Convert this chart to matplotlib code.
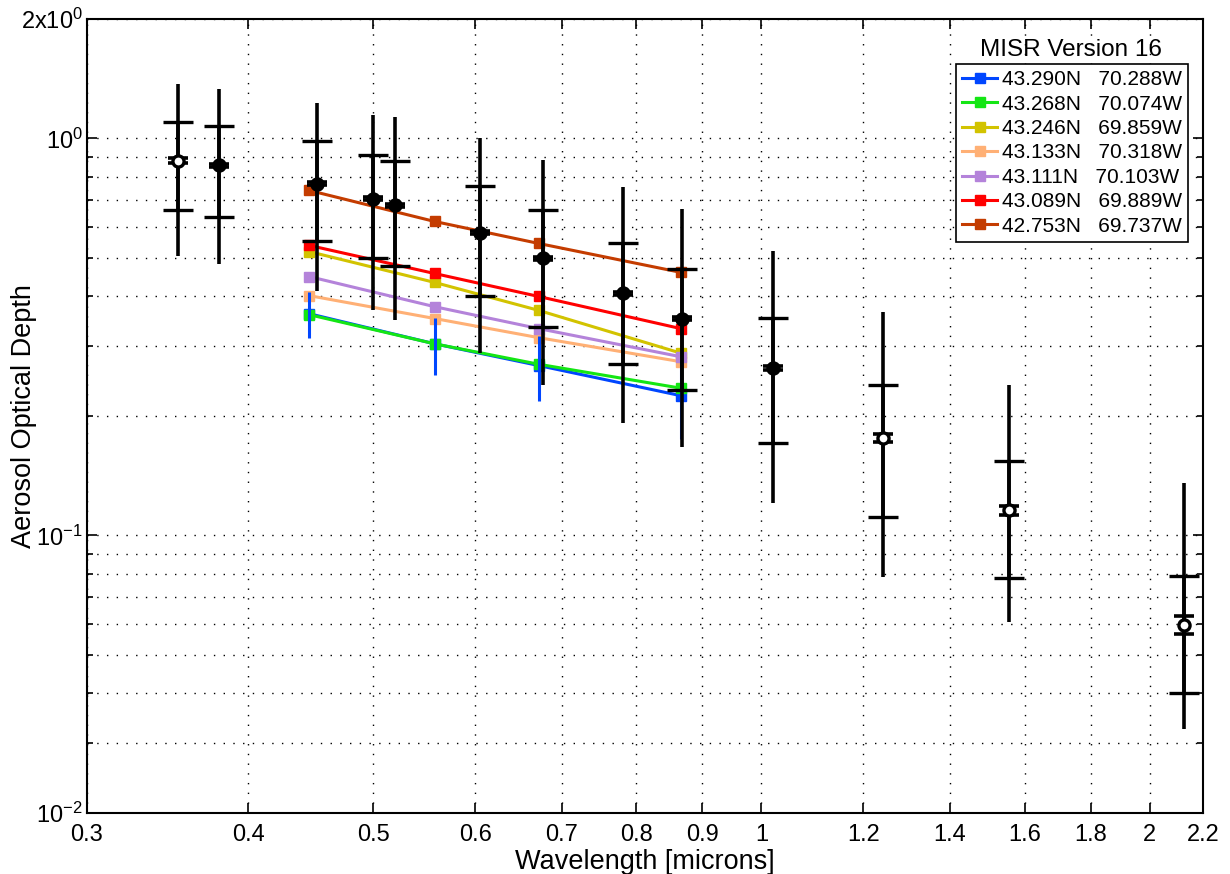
import matplotlib
matplotlib.use("Agg")
import matplotlib.pyplot as plt
import numpy as np
from matplotlib.ticker import FixedLocator, NullFormatter

plt.rcParams["font.family"] = ["Liberation Sans", "DejaVu Sans"]
plt.rcParams["mathtext.fontset"] = "custom"
plt.rcParams["mathtext.rm"] = "Liberation Sans"
plt.rcParams["mathtext.it"] = "Liberation Sans"

# MISR retrievals at the four camera bands
misr_wl = [0.446, 0.558, 0.672, 0.866]
misr_labels = [
    "43.290N   70.288W",
    "43.268N   70.074W",
    "43.246N   69.859W",
    "43.133N   70.318W",
    "43.111N   70.103W",
    "43.089N   69.889W",
    "42.753N   69.737W",
]
misr_colors = ["#0046ff", "#14e614", "#d2c300", "#ffb075", "#b483da", "#ff0000", "#c43c00"]
misr_aod = [
    [0.362, 0.304, 0.268, 0.225],
    [0.360, 0.304, 0.270, 0.235],
    [0.519, 0.434, 0.369, 0.288],
    [0.402, 0.352, 0.315, 0.274],
    [0.449, 0.377, 0.332, 0.282],
    [0.538, 0.457, 0.400, 0.332],
    [0.740, 0.618, 0.544, 0.460],
]
misr_err_first = [0.048, 0.050, 0.050, 0.050]

# sun photometer spectrum with its uncertainty ranges
sun_wl = [0.353, 0.380, 0.452, 0.500, 0.520, 0.605, 0.677, 0.781, 0.868, 1.021, 1.242, 1.555, 2.126]
sun_aod = [0.880, 0.855, 0.770, 0.706, 0.678, 0.579, 0.499, 0.407, 0.352, 0.264, 0.176, 0.1157, 0.0596]
sun_err = [0.015, 0.008, 0.008, 0.007, 0.007, 0.006, 0.005, 0.004, 0.004, 0.003, 0.0045, 0.0032, 0.0032]
cap_hi = [1.10, 1.072, 0.983, 0.906, 0.880, 0.757, 0.662, 0.544, 0.470, 0.354, 0.240, 0.1536, 0.0790]
cap_lo = [0.662, 0.633, 0.553, 0.499, 0.476, 0.400, 0.336, 0.271, 0.233, 0.171, 0.111, 0.0781, 0.0402]
bar_hi = [1.375, 1.33, 1.225, 1.149, 1.13, 1.0, 0.885, 0.753, 0.666, 0.522, 0.365, 0.240, 0.1354]
bar_lo = [0.507, 0.484, 0.414, 0.369, 0.348, 0.288, 0.240, 0.192, 0.167, 0.121, 0.0786, 0.0606, 0.0326]
open_marker = [True, False, False, False, False, False, False, False, False, False, True, True, True]

x_ticks = [0.3, 0.4, 0.5, 0.6, 0.7, 0.8, 0.9, 1.0, 1.2, 1.4, 1.6, 1.8, 2.0, 2.2]
x_tick_labels = ["0.3", "0.4", "0.5", "0.6", "0.7", "0.8", "0.9", "1", "1.2", "1.4", "1.6", "1.8", "2", "2.2"]
y_ticks = [0.02, 0.1, 1.0, 2.0]
y_tick_labels = [r"$\mathrm{10^{-2}}$", r"$\mathrm{10^{-1}}$", r"$\mathrm{10^{0}}$", r"$\mathrm{2x10^{0}}$"]

fig = plt.figure(figsize=(12.3, 8.74), dpi=100)
ax = fig.add_axes([0.0707, 0.0698, 0.9073, 0.9085])
ax.set_xscale("log")
ax.set_yscale("log")

for i, (vals, color, label) in enumerate(zip(misr_aod, misr_colors, misr_labels)):
    ax.plot(misr_wl, vals, "-s", color=color, lw=2.2, ms=7, mec=color, label=label, zorder=2)
    if i == 0:
        ax.errorbar(misr_wl, vals, yerr=misr_err_first, fmt="none", ecolor=color,
                    elinewidth=2.2, capsize=0, zorder=2.5)

sun_wl = np.array(sun_wl)
sun_aod = np.array(sun_aod)
outer = [sun_aod - np.array(bar_lo), np.array(bar_hi) - sun_aod]
inner = [sun_aod - np.array(cap_lo), np.array(cap_hi) - sun_aod]
ax.errorbar(sun_wl, sun_aod, yerr=outer, fmt="none", ecolor="black", elinewidth=2.6,
            capsize=0, zorder=3)
ax.errorbar(sun_wl, sun_aod, yerr=inner, fmt="none", ecolor="black", elinewidth=2.6,
            capsize=11, capthick=2.4, zorder=3)
ax.errorbar(sun_wl, sun_aod, yerr=sun_err, fmt="none", ecolor="black", elinewidth=2.4,
            capsize=7, capthick=2.6, zorder=4)
for x, y, hollow in zip(sun_wl, sun_aod, open_marker):
    ax.plot([x], [y], "o", ms=8, mew=2.4, mec="black",
            mfc="white" if hollow else "black", zorder=5)

ax.set_xlim(0.3, 2.2)
ax.set_ylim(0.02, 2.0)
ax.xaxis.set_major_locator(FixedLocator(x_ticks))
ax.xaxis.set_minor_locator(FixedLocator([]))
ax.set_xticklabels(x_tick_labels)
ax.yaxis.set_major_locator(FixedLocator(y_ticks))
minor_y = [m * 10.0 ** e for e in (-2, -1) for m in range(2, 10)]
minor_y = [v for v in minor_y if 0.021 < v < 1.9]
ax.yaxis.set_minor_locator(FixedLocator(minor_y))
ax.yaxis.set_minor_formatter(NullFormatter())
ax.set_yticklabels(y_tick_labels)

ax.tick_params(which="both", direction="in", top=True, right=True, labelsize=17, width=1.2)
ax.tick_params(which="major", length=7)
ax.tick_params(which="minor", length=4)
ax.tick_params(axis="x", pad=8)
ax.tick_params(axis="y", pad=3)
ax.grid(True, which="major", axis="both", color="black", lw=1.0, linestyle=(0, (1, 6)))
ax.grid(True, which="minor", axis="y", color="black", lw=1.0, linestyle=(0, (1, 6)))
for spine in ax.spines.values():
    spine.set_linewidth(1.5)

ax.set_xlabel("Wavelength [microns]", fontsize=19.5)
ax.set_ylabel("Aerosol Optical Depth", fontsize=19.5)
ax.xaxis.set_label_coords(0.5, -0.062)
ax.yaxis.set_label_coords(-0.0565, 0.5)
ax.xaxis.label.set_va("center")
ax.yaxis.label.set_va("center")

leg = ax.legend(loc="upper right", bbox_to_anchor=(0.9866, 0.9433), fontsize=15,
                frameon=True, fancybox=False, edgecolor="black", framealpha=1,
                borderpad=0.3, labelspacing=0.26, handlelength=1.7, handletextpad=0.2,
                borderaxespad=0)
leg.get_frame().set_linewidth(1.2)
ax.text(0.882, 0.961, "MISR Version 16", transform=ax.transAxes, ha="center",
        va="center", fontsize=17.5)

fig.savefig("out.png", dpi=100)
